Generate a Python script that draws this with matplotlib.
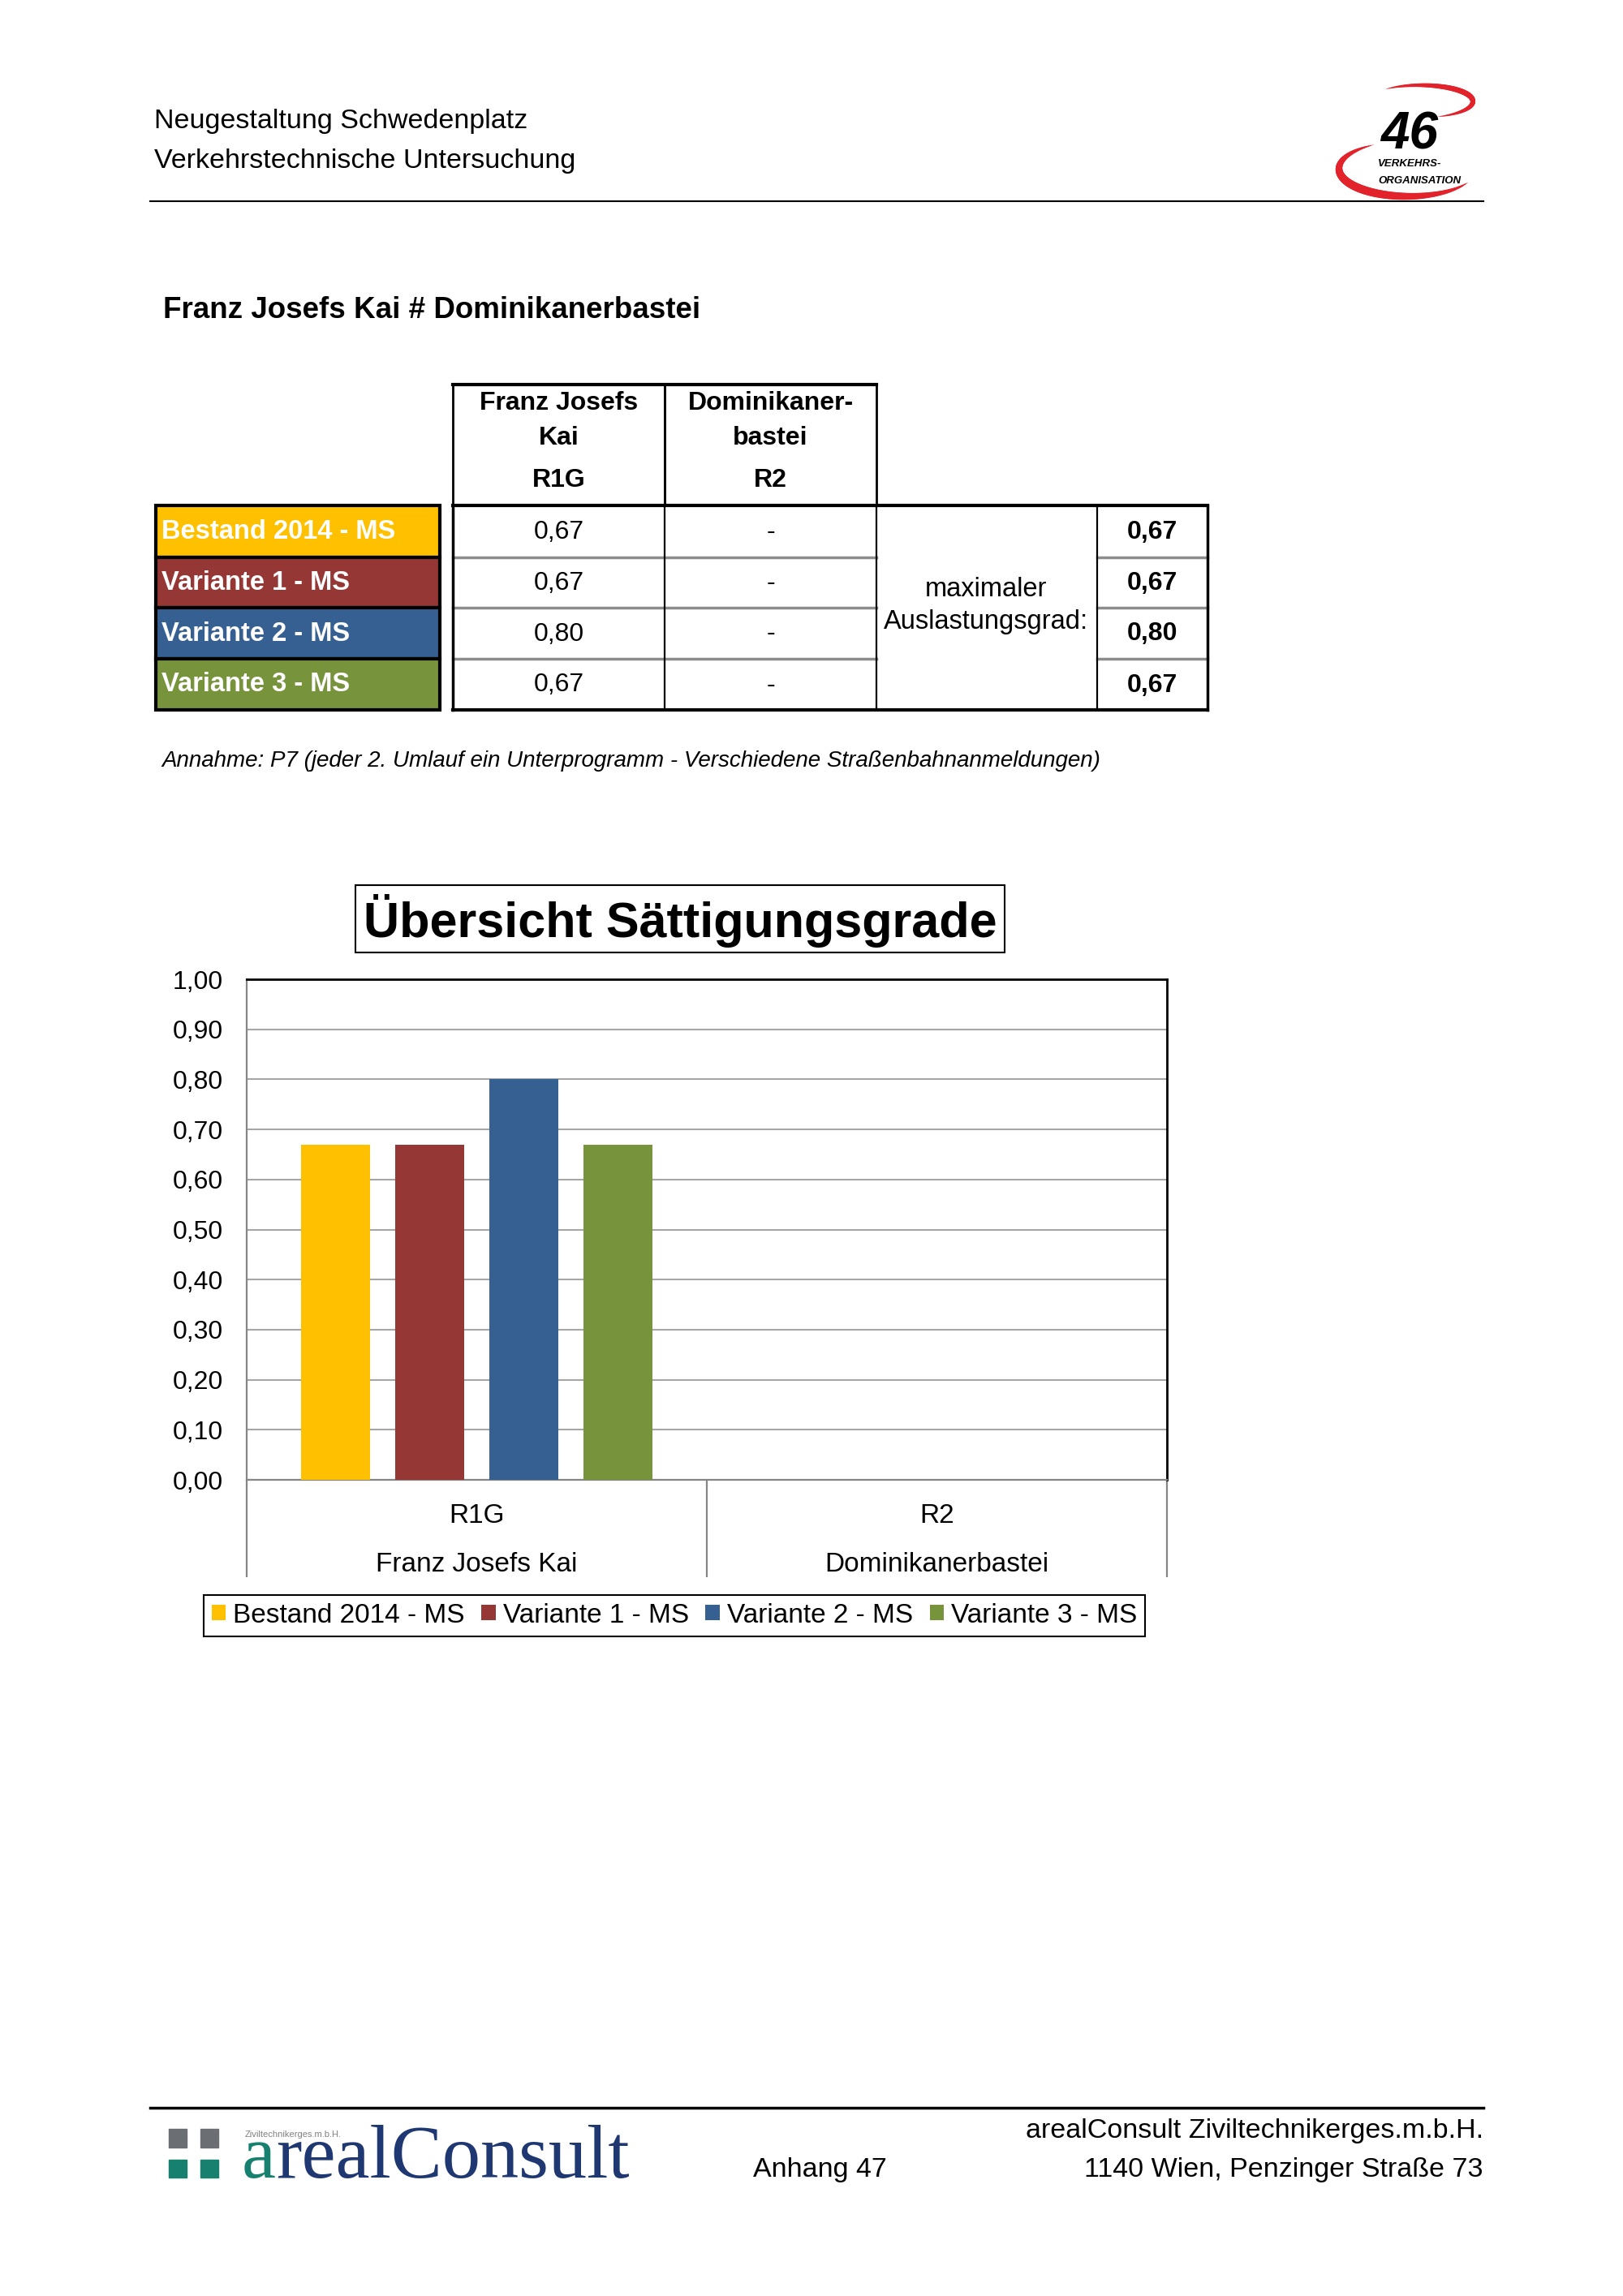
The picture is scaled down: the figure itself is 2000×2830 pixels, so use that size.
import numpy as np
import matplotlib.pyplot as plt
from matplotlib.patches import Rectangle
from matplotlib.collections import LineCollection

plt.rcParams['font.family'] = ['Liberation Sans', 'DejaVu Sans']

# chart / table data
scenarios = ['Bestand 2014 - MS', 'Variante 1 - MS', 'Variante 2 - MS', 'Variante 3 - MS']
scenario_colors = ['#FFC000', '#953735', '#376092', '#77933C']
categories = ['R1G', 'R2']
category_names = ['Franz Josefs Kai', 'Dominikanerbastei']
header_lines = [['Franz Josefs', 'Kai'], ['Dominikaner-', 'bastei']]
r1g_values = [0.67, 0.67, 0.80, 0.67]
r2_values = [np.nan, np.nan, np.nan, np.nan]
max_values = [0.67, 0.67, 0.80, 0.67]
y_ticks = [0.0, 0.1, 0.2, 0.3, 0.4, 0.5, 0.6, 0.7, 0.8, 0.9, 1.0]

page_title = ['Neugestaltung Schwedenplatz', 'Verkehrstechnische Untersuchung']
section_title = 'Franz Josefs Kai # Dominikanerbastei'
note = 'Annahme: P7 (jeder 2. Umlauf ein Unterprogramm - Verschiedene Straßenbahnanmeldungen)'
chart_title = 'Übersicht Sättigungsgrade'
footer_right = ['arealConsult Ziviltechnikerges.m.b.H.', '1140 Wien, Penzinger Straße 73']
footer_mid = 'Anhang 47'


def fmt(v):
    if np.isnan(v):
        return '-'
    return ('%.2f' % v).replace('.', ',')


fig = plt.figure(figsize=(20, 28.3), dpi=100)
page = fig.add_axes([0, 0, 1, 1])
page.set_xlim(0, 2000)
page.set_ylim(2830, 0)
page.axis('off')

# header
page.text(190, 158, page_title[0], fontsize=24.5, va='baseline')
page.text(190, 207, page_title[1], fontsize=24.5, va='baseline')
page.plot([185, 1828], [248, 248], color='black', lw=1.5)


# 46 logo
def swoosh(cx, cy, rx, ry, t0, t1, wmax):
    t = np.radians(np.linspace(t0, t1, 90))
    pts = np.column_stack([cx + rx * np.cos(t), cy - ry * np.sin(t)])
    segs = np.stack([pts[:-1], pts[1:]], axis=1)
    s = np.linspace(0, 1, len(segs))
    lw = wmax * np.sin(np.pi * s) ** 0.8 + 0.3
    page.add_collection(LineCollection(segs, linewidths=lw, colors='#e2232b', capstyle='round'))


swoosh(1750, 125, 65, 20, 130, -70, 4.5)
swoosh(1735, 208, 85, 34, 120, 330, 7)
page.text(1737, 183, '46', fontsize=46, weight='bold', style='italic', ha='center', va='baseline')
page.text(1698, 205, 'VERKEHRS-', fontsize=9.5, weight='bold', style='italic', va='baseline')
page.text(1698, 226, 'ORGANISATION', fontsize=9.5, weight='bold', style='italic', va='baseline')

page.text(201, 392, section_title, fontsize=26.5, weight='bold', va='baseline')

# table
col_x = [558, 819, 1080, 1352, 1488]
row_y = [623, 687, 749, 812, 875]
head_top = 474

for i, lines in enumerate(header_lines):
    page.add_patch(Rectangle((col_x[i], head_top), col_x[i + 1] - col_x[i], row_y[0] - head_top,
                             fill=False, ec='black', lw=2))
    xc = (col_x[i] + col_x[i + 1]) / 2
    page.text(xc, 505, lines[0], fontsize=23, weight='bold', ha='center', va='baseline')
    page.text(xc, 548, lines[1], fontsize=23, weight='bold', ha='center', va='baseline')
    page.text(xc, 600, categories[i], fontsize=23, weight='bold', ha='center', va='baseline')
page.plot([col_x[0], col_x[2]], [head_top, head_top], color='black', lw=3)

for r in range(1, 4):
    page.plot([col_x[0], col_x[2]], [row_y[r], row_y[r]], color='#8c8c8c', lw=2.5)
    page.plot([col_x[3], col_x[4]], [row_y[r], row_y[r]], color='#8c8c8c', lw=2.5)
for yy in [row_y[0], row_y[-1]]:
    page.plot([col_x[0], col_x[-1]], [yy, yy], color='black', lw=3)
for j, xx in enumerate(col_x):
    page.plot([xx, xx], [row_y[0], row_y[-1]], color='black', lw=2.5 if j in (0, 4) else 1.6)

for r, name in enumerate(scenarios):
    y0, y1 = row_y[r], row_y[r + 1]
    yb = (y0 + y1) / 2 + 9
    page.add_patch(Rectangle((192, y0), 350, y1 - y0, fc=scenario_colors[r], ec='black', lw=3))
    page.text(199, yb, name, fontsize=23.5, weight='bold', color='white', va='baseline')
    page.text((col_x[0] + col_x[1]) / 2, yb, fmt(r1g_values[r]), fontsize=23, ha='center', va='baseline')
    page.text((col_x[1] + col_x[2]) / 2, yb, fmt(r2_values[r]), fontsize=23, ha='center', va='baseline')
    page.text((col_x[3] + col_x[4]) / 2, yb, fmt(max_values[r]), fontsize=23, weight='bold',
              ha='center', va='baseline')

page.text(1215, 735, 'maximaler', fontsize=23.5, ha='center', va='baseline')
page.text(1215, 775, 'Auslastungsgrad:', fontsize=23.5, ha='center', va='baseline')

page.text(199, 945, note, fontsize=20, style='italic', va='baseline')

# chart title box
page.add_patch(Rectangle((438, 1091), 800, 83, fill=False, ec='black', lw=1.5))
page.text(838, 1155, chart_title, fontsize=44, weight='bold', ha='center', va='baseline')

# bar chart
ax = fig.add_axes([304 / 2000, 1 - 1824 / 2830, (1438 - 304) / 2000, (1824 - 1207) / 2830])
x = np.arange(len(categories))
width = 0.15
step = 0.205
for i, name in enumerate(scenarios):
    ax.bar(x + (i - 1.5) * step, [r1g_values[i], r2_values[i]], width,
           color=scenario_colors[i], label=name, zorder=3)

ax.set_xlim(-0.5, len(categories) - 0.5)
ax.set_ylim(0, 1)
ax.set_yticks(y_ticks)
ax.set_yticklabels([fmt(v) for v in y_ticks], fontsize=23)
ax.tick_params(axis='y', length=0, pad=21)
ax.set_xticks([])
ax.yaxis.grid(True, color='#a6a6a6', lw=1.5)
ax.set_axisbelow(True)
for side in ['top', 'right']:
    ax.spines[side].set_color('black')
    ax.spines[side].set_linewidth(2)
for side in ['left', 'bottom']:
    ax.spines[side].set_color('#868686')
    ax.spines[side].set_linewidth(1.6)

tr = ax.get_xaxis_transform()
ax.vlines(np.arange(len(categories) + 1) - 0.5, -0.1945, 0, transform=tr, colors='#868686',
          lw=1.6, clip_on=False)
for i, cat in enumerate(categories):
    ax.text(x[i], -0.0859, cat, transform=tr, fontsize=24, ha='center', va='baseline')
    ax.text(x[i], -0.1831, category_names[i], transform=tr, fontsize=24, ha='center', va='baseline')

leg = ax.legend(loc='center', bbox_to_anchor=(831 / 2000, 1 - 1991 / 2830), bbox_transform=fig.transFigure,
                ncol=4, fontsize=24, fancybox=False, edgecolor='black', framealpha=1,
                handlelength=0.52, handleheight=0.52, handletextpad=0.27, columnspacing=0.62,
                borderpad=0.3)
leg.get_frame().set_linewidth(1.5)

# footer
page.plot([185, 1828], [2598, 2598], color='black', lw=2.5)
for xx in [208, 247]:
    page.add_patch(Rectangle((xx, 2624), 22, 23, color='#6b6e73'))
    page.add_patch(Rectangle((xx, 2662), 22, 22, color='#17806f'))
first = page.text(298, 2684, 'a', fontsize=68, family='Liberation Serif', color='#17806f', va='baseline')
fig.canvas.draw()
bb = first.get_window_extent().transformed(page.transData.inverted())
page.text(bb.x1, 2684, 'realConsult', fontsize=68, family='Liberation Serif', color='#1f3872', va='baseline')
page.text(302, 2634, 'Ziviltechnikerges.m.b.H.', fontsize=8, color='#808080', va='baseline')
page.text(1010, 2683, footer_mid, fontsize=24.5, ha='center', va='baseline')
page.text(1828, 2635, footer_right[0], fontsize=24.5, ha='right', va='baseline')
page.text(1828, 2683, footer_right[1], fontsize=24.5, ha='right', va='baseline')

fig.savefig('out.png', dpi=100)
